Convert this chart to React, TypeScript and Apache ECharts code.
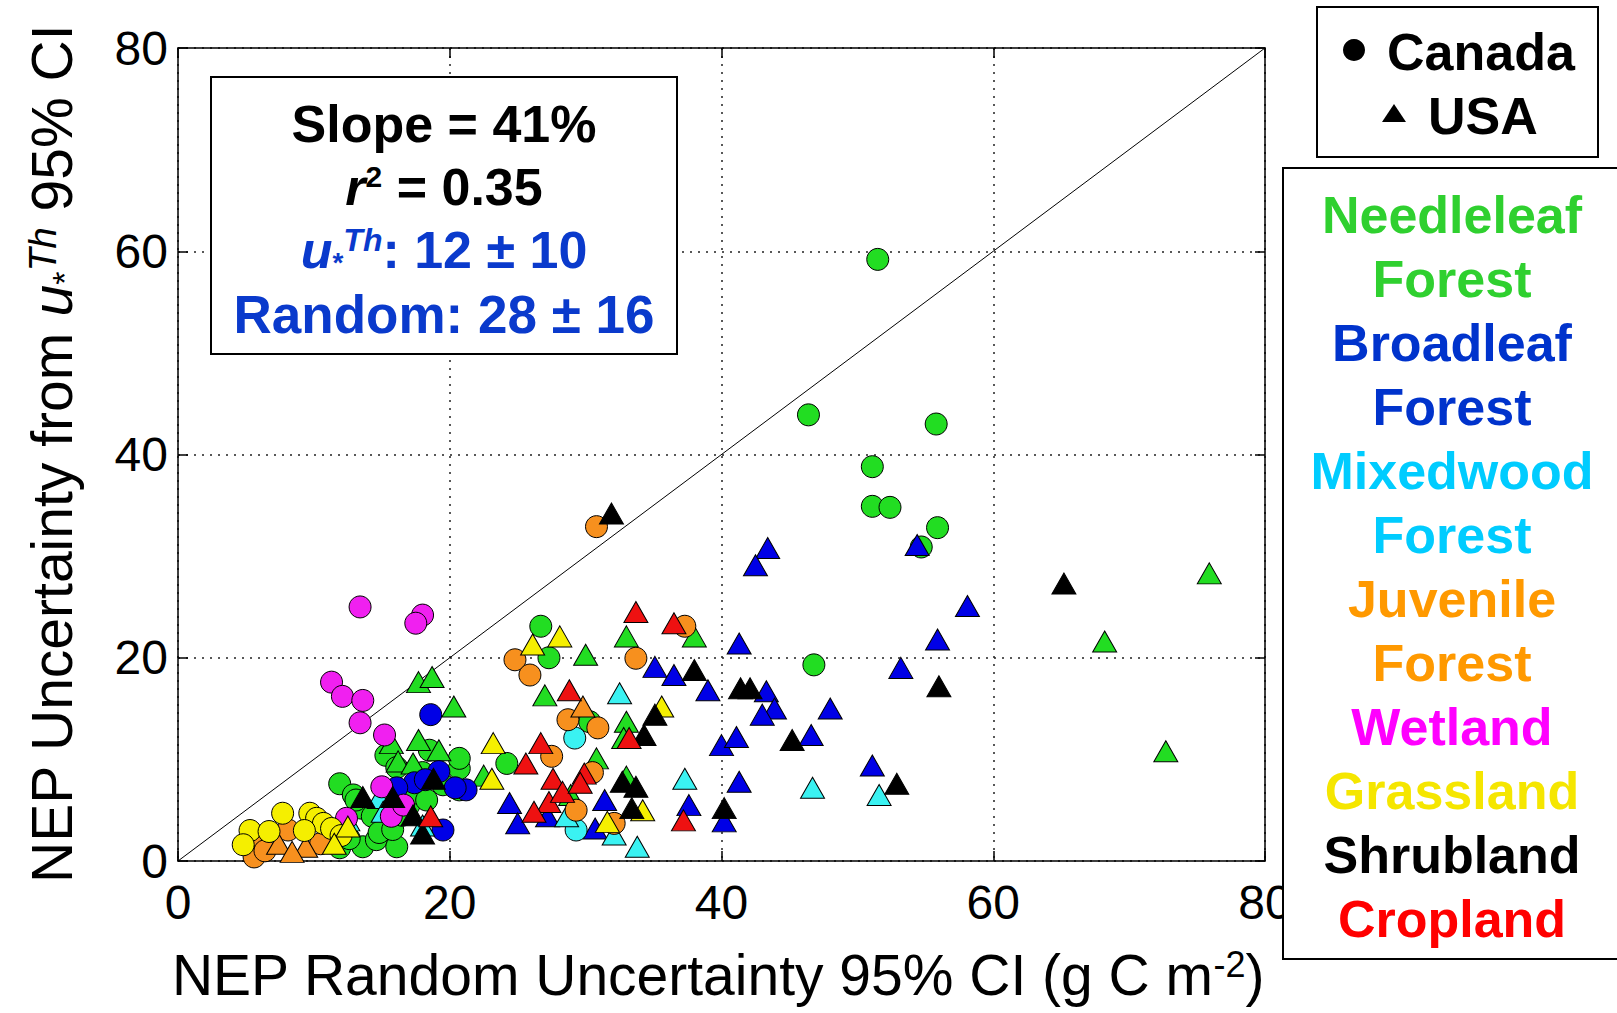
import React, { useEffect, useRef } from "react";
import * as echarts from "echarts";

const FONT = '"Liberation Sans", Arial, Helvetica, sans-serif';

// axis range / ticks
const axisMin = 0;
const axisMax = 80;
const axisStep = 20;

// categories (legend labels are split on two lines where needed)
const categories = ["Needleleaf Forest", "Broadleaf Forest", "Mixedwood Forest", "Juvenile Forest", "Wetland", "Grassland", "Shrubland", "Cropland"];
const legendLines = ["Needleleaf", "Forest", "Broadleaf", "Forest", "Mixedwood", "Forest", "Juvenile", "Forest", "Wetland", "Grassland", "Shrubland", "Cropland"];
const legendColors = ["#2fd02f", "#2fd02f", "#0033cc", "#0033cc", "#00ccff", "#00ccff", "#ff9900", "#ff9900", "#ff00ff", "#f5e600", "#000000", "#ff0000"];

// marker colours
const markerColors = ["#22dd22", "#0000e6", "#3af2f2", "#f7901e", "#f020f0", "#f5ef00", "#000000", "#ee1111"];

// [random CI, u*Th CI]
const needleCA = [[51.5,59.2],[46.4,43.9],[55.8,43.0],[51.1,38.8],[51.1,34.9],[52.4,34.8],[55.9,32.8],[54.7,30.9],[46.8,19.3],[26.7,23.1],[27.3,20.0],[24.2,9.6],[30.3,13.7],[11.9,7.6],[12.9,6.5],[13.5,5.2],[14.3,4.4],[11.9,1.3],[13.6,1.4],[14.6,2.1],[14.8,2.8],[16.1,1.4],[15.8,3.1],[17.0,5.5],[17.5,6.7],[18.3,6.0],[19.5,7.5],[20.7,7.0],[20.7,9.1],[20.7,10.1],[18.5,10.9],[15.3,10.4],[16.1,9.2],[18.0,8.7],[13.1,6.0],[16.5,4.5],[12.6,2.2]];
const needleUS = [[75.9,28.3],[68.2,21.6],[72.7,10.8],[17.7,17.6],[18.7,18.1],[20.3,15.2],[27.0,16.3],[30.0,20.3],[33.0,22.1],[38.0,22.1],[33.0,13.7],[32.8,12.1],[30.8,10.1],[33.0,8.3],[28.9,6.5],[22.5,8.4],[15.7,11.6],[16.2,9.8],[17.7,11.9],[17.3,9.6],[19.2,10.9]];
const broadCA = [[18.6,14.4],[19.2,8.8],[17.4,7.7],[21.2,7.0],[20.4,7.2],[19.5,3.05],[16.1,7.2],[18.2,8.0]];
const broadUS = [[54.4,31.1],[43.4,30.8],[42.5,29.1],[58.1,25.1],[55.9,21.8],[53.2,19.0],[41.3,21.4],[35.1,19.1],[36.5,18.3],[39.0,16.8],[43.3,16.7],[43.9,15.0],[43.0,14.4],[48.0,15.0],[40.0,11.4],[41.1,12.2],[46.6,12.4],[41.3,7.8],[51.1,9.4],[24.4,5.7],[25.0,3.7],[31.4,6.0],[30.7,3.2],[27.2,4.4],[40.2,3.9],[37.6,5.5]];
const mixedCA = [[29.2,12.1],[29.3,3.05]];
const mixedUS = [[51.6,6.5],[46.7,7.2],[37.3,8.1],[32.5,16.5],[33.8,1.4],[32.1,2.6],[28.6,4.4],[14.8,6.2],[15.1,4.85],[18.0,3.5],[12.5,4.0]];
const juvCA = [[30.8,32.9],[37.3,23.1],[33.7,19.95],[24.8,19.8],[25.9,18.3],[28.7,13.9],[30.9,13.1],[27.5,10.3],[30.5,8.7],[29.3,5.0],[32.1,3.7],[8.1,3.05],[5.8,1.4],[5.6,0.4],[10.5,1.7],[6.4,1.0]];
const juvUS = [[29.8,15.2],[7.4,1.7],[9.4,1.4],[8.4,0.9]];
const wetCA = [[13.4,25.0],[18.0,24.2],[17.5,23.4],[11.3,17.6],[12.1,16.2],[13.6,15.8],[13.4,13.6],[15.2,12.4],[15.0,7.3],[15.7,4.4],[12.4,4.2],[16.6,5.5]];
const grassCA = [[7.7,4.7],[9.7,4.7],[10.2,4.2],[10.7,3.7],[11.3,3.2],[5.3,3.0],[6.7,2.9],[4.8,1.6],[9.3,3.0],[12.0,2.5]];
const grassUS = [[23.2,11.6],[23.1,8.1],[26.1,21.3],[28.1,22.1],[35.6,15.2],[31.6,3.85],[34.2,5.0],[12.5,3.4],[11.5,1.7]];
const shrubUS = [[31.9,34.2],[65.2,27.3],[56.0,17.2],[52.9,7.6],[45.2,11.9],[41.4,17.0],[42.1,17.0],[38.0,18.8],[35.1,14.4],[34.3,12.4],[40.2,5.2],[33.7,7.3],[33.4,5.2],[32.7,7.8],[13.6,6.3],[15.8,6.3],[18.8,8.1],[17.3,4.5],[18.0,2.7]];
const cropUS = [[33.7,24.5],[36.5,23.4],[28.8,16.8],[26.7,11.6],[25.6,9.6],[27.6,8.1],[29.9,8.6],[27.3,5.8],[26.2,4.85],[28.3,6.8],[33.2,12.1],[29.6,7.7],[37.2,4.0],[18.6,4.4]];

const identityLine = [[0, 0], [80, 80]];

function scatter(name: string, data: number[][], color: string, circle: boolean) {
  return {
    type: "scatter",
    name,
    data,
    symbol: circle ? "circle" : "triangle",
    symbolSize: circle ? 22 : [24, 21],
    itemStyle: { color, borderColor: "#000", borderWidth: 1, opacity: 1 },
    xAxisIndex: 0,
    yAxisIndex: 0,
    z: 3,
  };
}

export default function App() {
  const ref = useRef<HTMLDivElement>(null);
  useEffect(() => {
    if (!ref.current) return;
    const chart = echarts.init(ref.current, undefined, { renderer: "svg" });

    const baseAxis = {
      type: "value",
      min: axisMin,
      max: axisMax,
      interval: axisStep,
      axisLine: { show: true, onZero: false, lineStyle: { color: "#000", width: 1.5 } },
      axisTick: { show: true, inside: true, length: 10, lineStyle: { color: "#000", width: 1.5 } },
    };

    const legend2Text = legendLines.map((t, i) => ({
      type: "text",
      x: 1452,
      y: 214.5 + 64.04 * i,
      z: 102,
      style: {
        text: t,
        fontSize: 52,
        fontWeight: "bold",
        fontFamily: FONT,
        fill: legendColors[i],
        align: "center",
        verticalAlign: "middle",
      },
    }));

    const bold = { fontSize: 52, fontWeight: "bold", fontFamily: FONT };
    const blue = "#0a3acc";

    const option: any = {
      animation: false,
      backgroundColor: "#fff",
      grid: { left: 178, right: 352, top: 48, bottom: 152 },
      xAxis: [
        {
          ...baseAxis,
          position: "bottom",
          axisLabel: { fontSize: 48, fontFamily: FONT, color: "#000", margin: 17 },
          splitLine: { show: true, lineStyle: { color: "#222", type: [2, 6], width: 1.5 } },
        },
        { ...baseAxis, position: "top", axisLabel: { show: false }, splitLine: { show: false } },
      ],
      yAxis: [
        {
          ...baseAxis,
          position: "left",
          axisLabel: { fontSize: 48, fontFamily: FONT, color: "#000", margin: 10 },
          splitLine: { show: true, lineStyle: { color: "#222", type: [2, 6], width: 1.5 } },
        },
        { ...baseAxis, position: "right", axisLabel: { show: false }, splitLine: { show: false } },
      ],
      series: [
        {
          type: "line",
          data: identityLine,
          symbol: "none",
          lineStyle: { color: "#000", width: 1 },
          z: 2,
          silent: true,
        },
        scatter(categories[0] + " CA", needleCA, markerColors[0], true),
        scatter(categories[0] + " US", needleUS, markerColors[0], false),
        scatter(categories[1] + " CA", broadCA, markerColors[1], true),
        scatter(categories[1] + " US", broadUS, markerColors[1], false),
        scatter(categories[2] + " CA", mixedCA, markerColors[2], true),
        scatter(categories[2] + " US", mixedUS, markerColors[2], false),
        scatter(categories[3] + " CA", juvCA, markerColors[3], true),
        scatter(categories[3] + " US", juvUS, markerColors[3], false),
        scatter(categories[4] + " CA", wetCA, markerColors[4], true),
        scatter(categories[5] + " CA", grassCA, markerColors[5], true),
        scatter(categories[5] + " US", grassUS, markerColors[5], false),
        scatter(categories[6] + " US", shrubUS, markerColors[6], false),
        scatter(categories[7] + " US", cropUS, markerColors[7], false),
      ],
      graphic: [
        // statistics box
        {
          type: "rect",
          z: 100,
          shape: { x: 211, y: 77, width: 466, height: 277 },
          style: { fill: "#fff", stroke: "#000", lineWidth: 2 },
        },
        {
          type: "text", x: 444, y: 124, z: 101,
          style: { text: "Slope = 41%", ...bold, fill: "#000", align: "center", verticalAlign: "middle" },
        },
        {
          type: "text", x: 444, y: 187, z: 101,
          style: {
            text: "{ri|r}{sup|2}{b| = 0.35}",
            ...bold, fill: "#000", align: "center", verticalAlign: "middle",
            rich: {
              ri: { ...bold, fontStyle: "italic", fill: "#000" },
              sup: { fontSize: 30, fontWeight: "bold", fontFamily: FONT, fill: "#000", verticalAlign: "top" },
              b: { ...bold, fill: "#000" },
            },
          },
        },
        {
          type: "text", x: 444, y: 250, z: 101,
          style: {
            text: "{u|u}{s|*}{t|Th}{b|: 12 ± 10}",
            ...bold, fill: blue, align: "center", verticalAlign: "middle",
            rich: {
              u: { ...bold, fontStyle: "italic", fill: blue },
              s: { fontSize: 28, fontWeight: "bold", fontFamily: FONT, fill: blue, verticalAlign: "bottom" },
              t: { fontSize: 32, fontWeight: "bold", fontStyle: "italic", fontFamily: FONT, fill: blue, verticalAlign: "top" },
              b: { ...bold, fill: blue },
            },
          },
        },
        {
          type: "text", x: 444, y: 314, z: 101,
          style: { text: "Random: 28 ± 16", ...bold, fontSize: 53, fill: blue, align: "center", verticalAlign: "middle" },
        },
        // country legend
        {
          type: "rect", z: 100,
          shape: { x: 1317, y: 7, width: 281, height: 150 },
          style: { fill: "#fff", stroke: "#000", lineWidth: 2 },
        },
        { type: "circle", z: 101, shape: { cx: 1354, cy: 50, r: 11 }, style: { fill: "#000" } },
        {
          type: "text", x: 1387, y: 52, z: 101,
          style: { text: "Canada", ...bold, fill: "#000", align: "left", verticalAlign: "middle" },
        },
        {
          type: "polygon", z: 101,
          shape: { points: [[1382, 122], [1406, 122], [1394, 104]] },
          style: { fill: "#000" },
        },
        {
          type: "text", x: 1428, y: 116, z: 101,
          style: { text: "USA", ...bold, fill: "#000", align: "left", verticalAlign: "middle" },
        },
        // vegetation legend
        {
          type: "rect", z: 100,
          shape: { x: 1283, y: 168, width: 400, height: 791 },
          style: { fill: "#fff", stroke: "#000", lineWidth: 2 },
        },
        ...legend2Text,
        // axis titles
        {
          type: "text", x: 718, y: 975, z: 101,
          style: {
            text: "{n|NEP Random Uncertainty 95% CI (g C m}{sup|-2}{n|)}",
            fontSize: 57, fontFamily: FONT, fill: "#000", align: "center", verticalAlign: "middle",
            rich: {
              n: { fontSize: 57, fontFamily: FONT, fill: "#000" },
              sup: { fontSize: 36, fontFamily: FONT, fill: "#000", verticalAlign: "top" },
            },
          },
        },
        {
          type: "text", x: 52, y: 454, rotation: Math.PI / 2, z: 101,
          style: {
            text: "{n|NEP Uncertainty from }{u|u}{s|*}{t|Th}{n| 95% CI}",
            fontSize: 57, fontFamily: FONT, fill: "#000", align: "center", verticalAlign: "middle",
            rich: {
              n: { fontSize: 57, fontFamily: FONT, fill: "#000" },
              u: { fontSize: 57, fontFamily: FONT, fontStyle: "italic", fill: "#000" },
              s: { fontSize: 34, fontFamily: FONT, fill: "#000", verticalAlign: "bottom" },
              t: { fontSize: 38, fontFamily: FONT, fontStyle: "italic", fill: "#000", verticalAlign: "top" },
            },
          },
        },
      ],
    };

    chart.setOption(option);
    return () => chart.dispose();
  }, []);

  return (
    <div
      ref={ref}
      style={{ position: "absolute", left: 0, top: 0, width: 1617, height: 1013, background: "#fff" }}
    />
  );
}
